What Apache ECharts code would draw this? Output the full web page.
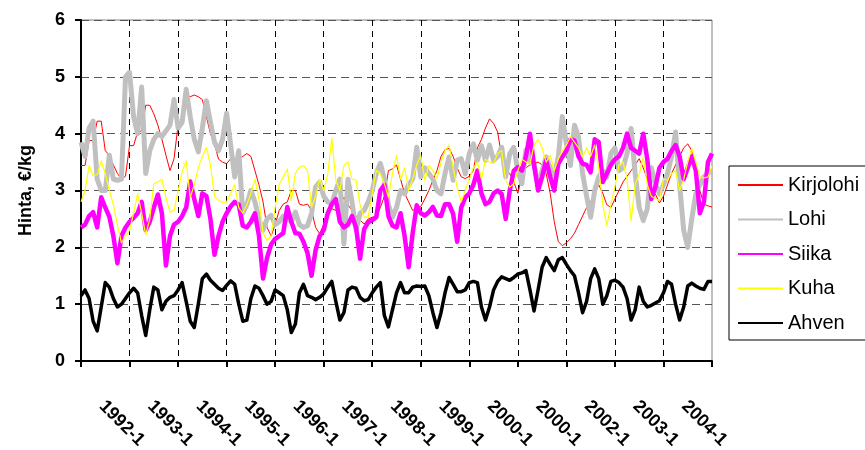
<!DOCTYPE html>
<html>
<head>
<meta charset="utf-8">
<script src="https://cdn.jsdelivr.net/npm/echarts@6/dist/echarts.min.js"></script>
<style>html,body{margin:0;padding:0;background:#fff;}#c{width:865px;height:450px;}</style>
</head>
<body>
<div id="c"></div>
<script>
// Monthly categories 1991-1 ... 2004-1
const months = [];
for (let y = 1991; y <= 2004; y++) {
  for (let m = 1; m <= 12; m++) {
    if (y === 2004 && m > 1) break;
    months.push(y + '-' + m);
  }
}
const tickLabels = ['1992-1','1993-1','1994-1','1995-1','1996-1','1997-1','1998-1','1999-1','2000-1','2000-1','2002-1','2003-1','2004-1'];
const yTicks = [0, 1, 2, 3, 4, 5, 6];

const kirjolohi = [3.44,3.44,3.88,3.88,4.22,4.22,3.70,3.62,3.45,3.30,3.20,3.25,
 3.79,3.79,4.03,4.05,4.50,4.50,4.35,4.15,3.90,3.62,3.35,3.56,
 4.15,4.15,4.65,4.65,4.68,4.65,4.60,4.30,4.00,3.82,3.55,3.50,
 3.47,3.56,3.56,3.56,3.60,3.65,3.60,3.35,3.10,2.80,2.35,2.20,
 2.40,2.65,2.76,2.80,3.00,3.00,2.76,2.74,2.76,2.65,2.35,2.24,
 2.40,2.60,2.68,2.65,2.75,2.88,2.75,2.65,2.55,2.48,2.41,2.50,
 2.53,2.53,2.70,2.90,3.35,3.38,3.45,3.20,2.95,2.80,2.65,2.68,
 2.72,2.85,3.00,3.18,3.35,3.60,3.72,3.74,3.60,3.40,3.24,3.21,
 3.25,3.35,3.75,3.90,4.10,4.26,4.18,4.03,3.60,3.35,3.30,3.15,
 2.95,3.25,3.40,3.45,3.48,3.50,3.45,3.30,2.95,2.45,2.10,2.03,
 2.08,2.15,2.25,2.40,2.55,2.70,2.80,2.95,3.10,2.95,2.75,2.70,
 2.85,3.00,3.15,3.25,3.35,3.45,3.56,3.40,3.20,3.00,2.94,2.78,
 2.90,3.10,3.30,3.45,3.60,3.75,3.82,3.70,3.35,3.00,2.76,2.73,
 2.71];
const lohi = [3.85,3.60,4.10,4.22,3.20,3.00,3.00,3.62,3.20,3.18,3.20,5.00,
 5.08,4.30,4.00,4.82,3.30,3.70,3.90,4.00,3.95,4.05,4.15,4.60,
 4.10,4.20,4.78,4.30,3.90,3.68,4.10,4.58,4.20,3.85,3.70,3.90,
 4.36,3.80,3.24,3.70,2.60,2.75,3.00,2.80,2.50,2.30,2.50,2.56,
 2.40,2.45,2.55,2.50,2.45,2.62,2.40,2.35,2.38,2.60,3.06,3.15,
 2.90,2.80,2.76,3.00,3.20,2.06,3.20,2.80,2.30,2.60,2.65,2.80,
 3.00,3.30,3.48,3.20,2.75,2.53,2.70,3.00,2.94,3.10,3.20,3.76,
 3.24,3.40,3.30,3.20,3.00,2.94,3.30,3.59,3.18,3.53,3.56,3.29,
 3.65,3.82,3.53,3.79,3.53,3.80,3.53,3.60,3.76,3.24,3.65,3.76,
 3.35,3.12,3.71,3.50,3.47,3.09,3.35,3.59,3.40,3.26,3.59,4.30,
 3.82,3.44,4.15,3.94,3.30,2.90,2.53,3.00,3.24,3.35,3.24,3.65,
 3.75,3.35,3.40,3.65,4.09,3.30,2.70,2.47,2.68,3.40,3.12,2.94,
 3.10,3.30,3.60,4.03,3.10,2.30,2.00,2.50,2.94,3.10,3.24,3.30,
 3.35];
const siika = [2.35,2.40,2.55,2.62,2.35,2.88,2.70,2.54,2.20,1.72,2.20,2.35,
 2.45,2.52,2.60,2.80,2.30,2.45,2.70,2.93,2.60,1.68,2.20,2.40,
 2.45,2.55,2.70,3.16,2.85,2.55,2.95,2.90,2.50,1.87,2.20,2.45,
 2.60,2.72,2.80,2.75,2.38,2.35,2.45,2.60,2.20,1.45,1.82,2.05,
 2.15,2.20,2.25,2.71,2.45,2.25,2.24,2.10,1.90,1.50,1.95,2.20,
 2.30,2.60,2.76,2.85,2.45,2.35,2.40,2.55,2.35,1.80,2.32,2.44,
 2.48,2.53,3.00,3.10,2.55,2.38,2.35,2.60,2.20,1.65,2.25,2.74,
 2.60,2.56,2.62,2.71,2.56,2.55,2.76,2.76,2.59,2.10,2.70,2.88,
 2.95,3.10,3.35,2.95,2.76,2.80,2.95,3.00,2.94,2.50,3.00,3.35,
 3.41,3.35,3.60,4.00,3.45,3.00,3.24,3.53,3.24,3.00,3.47,3.59,
 3.70,3.90,3.88,3.60,3.47,3.45,3.32,3.90,3.85,3.15,3.30,3.45,
 3.55,3.60,3.75,4.00,3.75,3.70,3.65,4.00,3.55,2.85,3.06,3.40,
 3.50,3.56,3.70,3.80,3.60,3.20,3.40,3.60,3.35,2.60,2.80,3.50,
 3.65];
const kuha = [2.80,3.00,3.44,3.26,3.28,3.52,3.30,3.00,2.75,2.40,2.08,2.20,
 2.30,2.60,2.94,2.60,2.22,2.50,3.12,3.15,3.20,2.88,2.62,2.65,
 3.00,3.33,3.52,2.88,3.10,3.40,3.60,3.76,3.45,2.90,2.83,2.79,
 2.80,2.95,3.10,2.70,2.60,2.75,2.95,3.20,2.85,2.25,2.12,2.20,
 2.70,3.10,3.24,3.38,2.82,3.30,3.41,3.44,3.35,2.71,2.90,3.20,
 3.00,3.29,3.92,3.18,3.00,3.44,3.50,3.20,3.18,2.75,2.53,2.53,
 2.95,3.35,3.30,3.12,2.88,3.30,3.62,3.20,3.40,3.00,3.20,3.45,
 3.62,3.18,3.44,3.35,3.21,3.50,3.70,3.80,3.40,3.05,2.80,3.00,
 3.20,3.40,3.50,3.20,3.55,3.50,3.47,3.65,3.70,3.18,3.06,3.12,
 3.35,3.55,3.50,3.47,3.80,3.90,3.75,3.50,3.62,3.35,3.55,3.70,
 3.80,3.95,3.85,3.75,3.60,3.75,3.60,3.80,3.40,2.75,2.38,2.75,
 3.06,3.45,3.50,3.20,2.47,3.10,3.29,3.59,3.10,2.90,2.86,2.82,
 3.20,3.18,3.30,3.35,3.00,3.20,3.50,3.74,3.50,3.25,3.22,3.24,
 3.44];
const ahven = [1.15,1.25,1.10,0.70,0.53,0.95,1.38,1.30,1.10,0.95,1.00,1.10,
 1.20,1.28,1.20,0.80,0.45,0.90,1.30,1.25,0.90,1.05,1.12,1.15,
 1.25,1.38,1.05,0.70,0.59,1.00,1.45,1.53,1.42,1.35,1.28,1.24,
 1.33,1.41,1.35,1.00,0.70,0.72,1.10,1.32,1.28,1.15,1.00,1.05,
 1.25,1.20,1.15,0.90,0.50,0.65,1.20,1.35,1.15,1.12,1.08,1.12,
 1.18,1.30,1.40,1.05,0.72,0.85,1.25,1.30,1.28,1.12,1.06,1.08,
 1.20,1.30,1.38,0.80,0.60,0.90,1.20,1.38,1.20,1.20,1.30,1.32,
 1.31,1.32,1.15,0.85,0.59,0.85,1.20,1.47,1.35,1.22,1.22,1.25,
 1.38,1.40,1.38,0.95,0.72,0.95,1.25,1.40,1.48,1.45,1.42,1.47,
 1.53,1.55,1.59,1.25,0.88,1.25,1.65,1.82,1.70,1.59,1.78,1.82,
 1.70,1.59,1.50,1.20,0.85,1.05,1.45,1.62,1.45,1.00,1.15,1.40,
 1.42,1.38,1.30,1.10,0.72,0.90,1.30,1.05,0.95,0.98,1.02,1.06,
 1.20,1.40,1.35,1.00,0.72,0.95,1.32,1.37,1.32,1.28,1.26,1.40,
 1.40];

const FONT = 'Liberation Sans, Arial, sans-serif';
const chart = echarts.init(document.getElementById('c'), null, {renderer: 'canvas'});
const mk = (name, data, color, width) => ({
  name, type: 'line', data, symbol: 'none', showSymbol: false, smooth: false,
  lineStyle: {color, width, join: 'round'}, itemStyle: {color},
  emphasis: {disabled: true}, animation: false
});
chart.setOption({
  animation: false,
  backgroundColor: '#fff',
  grid: {left: 81, top: 20, right: 153, bottom: 89, show: true, borderColor: '#808080', borderWidth: 1, backgroundColor: 'transparent', containLabel: false, outerBoundsMode: 'none'},
  legend: {
    orient: 'vertical', left: 729, top: 166,
    itemWidth: 45, itemHeight: 14, itemGap: 14.5,
    padding: [9, 8, 7, 8],
    borderColor: '#000', borderWidth: 1, backgroundColor: '#fff',
    itemStyle: {opacity: 0},
    textStyle: {fontFamily: FONT, fontSize: 20, color: '#000'},
    selectedMode: false,
    data: ['Kirjolohi', 'Lohi', 'Siika', 'Kuha', 'Ahven']
  },
  xAxis: {
    type: 'category', data: months, boundaryGap: false,
    axisLine: {lineStyle: {color: '#000', width: 2}},
    axisTick: {show: true, length: 6, lineStyle: {color: '#000', width: 2}, interval: (i) => i % 12 === 0},
    splitLine: {show: true, interval: (i) => i % 12 === 0 && i > 0 && i < months.length - 1, lineStyle: {color: '#000', width: 1, type: [6, 5]}},
    axisLabel: {
      interval: (i) => i % 12 === 0 && i > 0,
      formatter: (v, i) => tickLabels[i / 12 - 1] || '',
      rotate: -45, align: 'center', verticalAlign: 'middle',
      margin: 70, padding: [0, 22, 0, 0],
      fontFamily: FONT, fontSize: 18, fontWeight: 'bold', color: '#000'
    }
  },
  yAxis: {
    type: 'value', min: 0, max: 6, interval: 1,
    name: 'Hinta, €/kg', nameLocation: 'middle', nameGap: 46,
    nameTextStyle: {fontFamily: FONT, fontSize: 18, fontWeight: 'bold', color: '#000'},
    axisLine: {show: true, lineStyle: {color: '#000', width: 2}},
    axisTick: {show: true, length: 6, lineStyle: {color: '#000', width: 2}},
    splitLine: {show: true, lineStyle: {color: '#555', width: 1, type: [8, 5]}},
    axisLabel: {margin: 16, fontFamily: FONT, fontSize: 18, fontWeight: 'bold', color: '#000',
      formatter: (v) => yTicks.includes(v) ? String(v) : ''}
  },
  series: [
    mk('Kirjolohi', kirjolohi, '#FF0000', 1),
    mk('Lohi', lohi, '#C0C0C0', 5),
    mk('Siika', siika, '#FF00FF', 4.5),
    mk('Kuha', kuha, '#FFFF00', 1.2),
    mk('Ahven', ahven, '#000000', 3.5)
  ]
});
</script>
</body>
</html>
